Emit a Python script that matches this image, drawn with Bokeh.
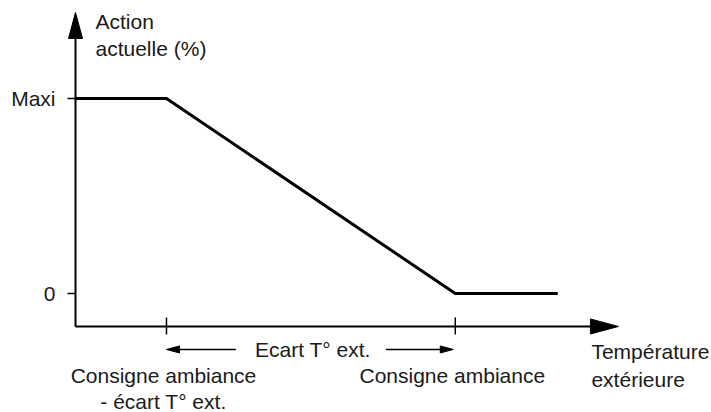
from bokeh.plotting import figure
from bokeh.models import Range1d
from bokeh.embed import file_html
from bokeh.resources import INLINE
from bokeh.core.properties import value

# ---------------- data ----------------
curve_x = [0, 3.15, 13.15, 16.7]        # outside temperature (schematic units)
curve_y = [100, 100, 0, 0]              # action (% of Maxi)
y_ticks = [0, 100]
y_tick_labels = ["0", "Maxi"]
x_ticks = [3.15, 13.15]
x_tick_labels = ["Consigne ambiance\n- écart T° ext.", "Consigne ambiance"]
x_title = "Température\nextérieure"
y_title = "Action\nactuelle (%)"
ecart_text = "Ecart T° ext."
x_axis_at = -16.9       # level where the horizontal axis crosses
x_axis_end = 18.8       # end of horizontal axis (arrow tip)
y_axis_end = 144.1      # end of vertical axis (arrow tip)

# ---------------- layout ----------------
W, H = 711, 412
SX = 28.88              # px per x unit
SY = 1.95               # px per y unit
ORX, ORY = 75, 293      # canvas position of (0, 0)
FONT = "Liberation Sans"
FS = "21px"
TXT = "#1a1a1a"

xr = Range1d(-ORX / SX, (W - ORX) / SX)
yr = Range1d(-(H - ORY) / SY, ORY / SY)

p = figure(width=W, height=H, output_backend="svg", toolbar_location=None,
           x_range=xr, y_range=yr, x_axis_type=None, y_axis_type=None,
           min_border=0)
p.min_border_left = p.min_border_right = p.min_border_top = p.min_border_bottom = 0
p.outline_line_color = None
p.grid.visible = False
p.background_fill_color = "white"
p.border_fill_color = "white"


def dx(px):
    return px / SX


def dy(px):
    return px / SY


def head(tx, ty, ux, uy, length, width):
    # triangle, tip at (tx, ty), pointing along screen direction (ux, uy) (uy up)
    bx, by = -ux * length, -uy * length
    qx, qy = -uy * width / 2, ux * width / 2
    xs = [tx, tx + dx(bx + qx), tx + dx(bx - qx)]
    ys = [ty, ty + dy(by + qy), ty + dy(by - qy)]
    p.patch(xs, ys, fill_color="black", line_color="black", line_width=1)


# axes lines
p.segment(x0=[0, 0], y0=[x_axis_at, x_axis_at], x1=[0, x_axis_end - dx(10)],
          y1=[y_axis_end - dy(10), x_axis_at], line_width=2, line_color="black")
head(0, y_axis_end, 0, 1, 26, 14)
head(x_axis_end, x_axis_at, 1, 0, 28, 15)

# y ticks + labels
p.segment(x0=[0] * len(y_ticks), y0=y_ticks, x1=[-dx(8)] * len(y_ticks), y1=y_ticks,
          line_width=1.5, line_color="black")
p.text(x=[0] * len(y_ticks), y=y_ticks, text=y_tick_labels, x_offset=-20,
       text_align="right", text_baseline="middle", text_font=value(FONT),
       text_font_size=FS, text_color=TXT)

# x ticks + labels
p.segment(x0=x_ticks, y0=[x_axis_at + dy(9)] * len(x_ticks), x1=x_ticks,
          y1=[x_axis_at - dy(8)] * len(x_ticks), line_width=1.5, line_color="black")
p.text(x=x_ticks, y=[x_axis_at] * len(x_ticks), text=x_tick_labels, x_offset=-3,
       y_offset=38, text_align="center", text_baseline="top", text_font=value(FONT),
       text_font_size=FS, text_color=TXT, text_line_height=1.1)

# curve
p.line(curve_x, curve_y, line_width=3, line_color="black", line_join="miter")

# Ecart arrows between the two ticks
ey = x_axis_at - dy(23)
mid = (x_ticks[0] + x_ticks[1]) / 2
gap = dx(75)
p.segment(x0=[mid - gap, mid + gap], y0=[ey, ey], x1=[x_ticks[0] + dx(8), x_ticks[1] - dx(9)],
          y1=[ey, ey], line_width=1.5, line_color="black")
head(x_ticks[0], ey, -1, 0, 13, 7)
head(x_ticks[1] - dx(2), ey, 1, 0, 13, 7)
p.text(x=[mid], y=[ey], text=[ecart_text], x_offset=2, text_align="center",
       text_baseline="middle", text_font=value(FONT), text_font_size=FS, text_color=TXT)

# axis titles
p.text(x=[x_axis_end], y=[x_axis_at], text=[x_title], x_offset=-27, y_offset=14,
       text_align="left", text_baseline="top", text_font=value(FONT),
       text_font_size=FS, text_color=TXT, text_line_height=1.2)
p.text(x=[0], y=[y_axis_end], text=[y_title], x_offset=20, y_offset=-3,
       text_align="left", text_baseline="top", text_font=value(FONT),
       text_font_size=FS, text_color=TXT, text_line_height=1.2)

open("out.html", "w").write(file_html(p, INLINE))
